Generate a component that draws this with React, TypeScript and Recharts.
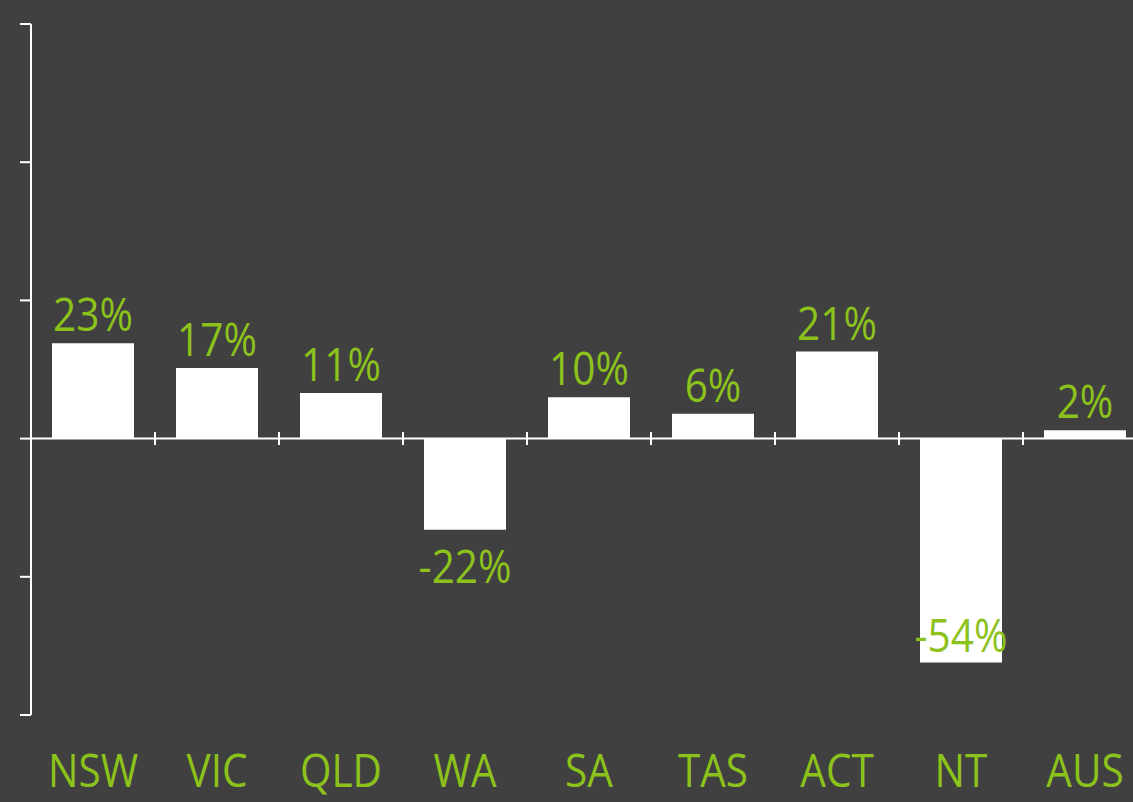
import React from 'react';
import { BarChart, Bar, XAxis, YAxis, ReferenceLine, LabelList } from 'recharts';

const states = ['NSW', 'VIC', 'QLD', 'WA', 'SA', 'TAS', 'ACT', 'NT', 'AUS'];
const changes = [23, 17, 11, -22, 10, 6, 21, -54, 2];
const yTicks = [-200 / 3, -100 / 3, 0, 100 / 3, 200 / 3, 100];

const GREEN = '#8cc21b';
const BG = '#404040';
const FONT = '"Open Sans", "Noto Sans", sans-serif';

const data = states.map((s, i) => ({ state: s, change: changes[i] }));

// narrow green text, centred on x, baseline at y (squeezed 90% about x)
const GreenText = ({ x, y, children }: any) => (
  <text
    transform={`matrix(0.9,0,0,1,${0.1 * x},0)`}
    x={x}
    y={y}
    textAnchor="middle"
    fill={GREEN}
    fontSize={45}
    fontFamily={FONT}
  >
    {children}
  </text>
);

const CategoryTick = (props: any) => {
  const { x, y, payload } = props;
  return <GreenText x={x} y={y + 72}>{payload.value}</GreenText>;
};

const ValueLabel = (props: any) => {
  const { x, y, width, height, value } = props;
  const cx = x + width / 2;
  const top = Math.min(y, y + height);
  const bottom = Math.max(y, y + height);
  let baseline: number;
  if (value >= 0) {
    baseline = top - 12;
  } else if (value < -40) {
    // too deep: keep label inside the bar
    baseline = bottom - 10;
  } else {
    baseline = bottom + 53;
  }
  return <GreenText x={cx} y={baseline}>{`${value}%`}</GreenText>;
};

const ZeroLine = (props: any) => {
  const { x1, y1, x2 } = props;
  const n = states.length;
  const step = (x2 - x1) / n;
  const marks = [];
  for (let i = 1; i < n; i++) {
    const mx = x1 + step * i;
    marks.push(<line key={i} x1={mx} x2={mx} y1={y1 - 6.5} y2={y1 + 6.5} stroke="#fff" strokeWidth={2} />);
  }
  return (
    <g>
      <line x1={x1} x2={x2} y1={y1} y2={y1} stroke="#fff" strokeWidth={2} />
      {marks}
    </g>
  );
};

export default function App() {
  return (
    <div
      style={{
        position: 'fixed',
        left: 0,
        top: 0,
        width: 1133,
        height: 802,
        overflow: 'hidden',
        background: BG,
      }}
    >
      <BarChart
        width={1147}
        height={802}
        data={data}
        margin={{ top: 24, right: 0, left: 0, bottom: 0 }}
        barSize={82}
      >
        <XAxis
          dataKey="state"
          axisLine={false}
          tickLine={false}
          tickSize={0}
          tickMargin={0}
          height={87}
          interval={0}
          tick={<CategoryTick />}
        />
        <YAxis
          type="number"
          domain={[-200 / 3, 100]}
          ticks={yTicks}
          width={31}
          tickSize={11}
          axisLine={{ stroke: '#fff', strokeWidth: 2 }}
          tickLine={{ stroke: '#fff', strokeWidth: 2 }}
          tick={() => <g />}
          allowDataOverflow
        />
        <Bar dataKey="change" fill="#ffffff" isAnimationActive={false}>
          <LabelList dataKey="change" content={<ValueLabel />} />
        </Bar>
        <ReferenceLine y={0} shape={<ZeroLine />} />
      </BarChart>
    </div>
  );
}
